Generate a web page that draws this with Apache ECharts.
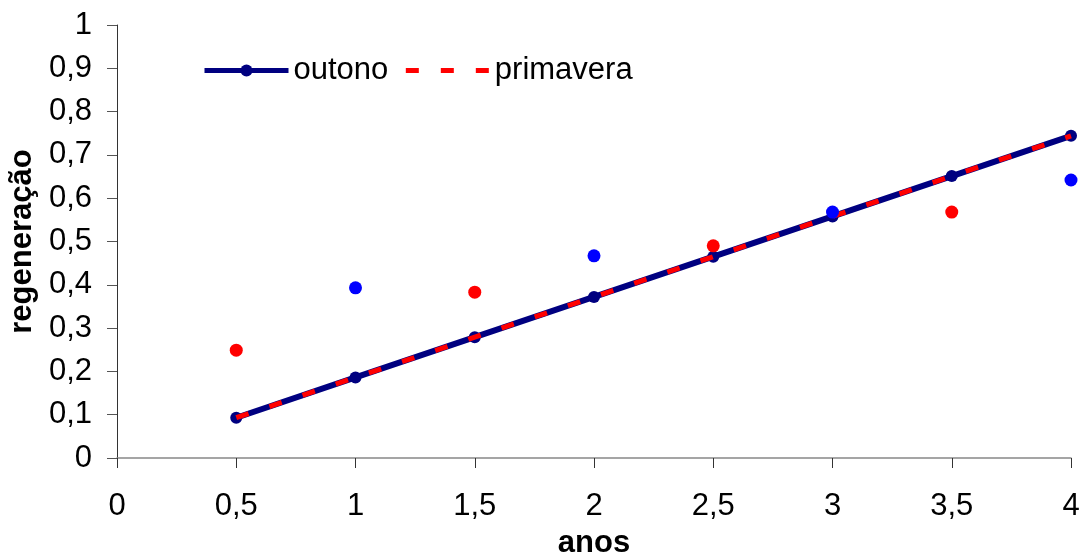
<!DOCTYPE html>
<html>
<head>
<meta charset="utf-8">
<script src="https://cdn.jsdelivr.net/npm/echarts@6/dist/echarts.min.js"></script>
<style>
  html, body { margin: 0; padding: 0; background: #fff; }
  #chart { width: 1085px; height: 553px; }
</style>
</head>
<body>
<div id="chart"></div>
<script>
// Anos (eixo x) e valores ajustados de regeneração
const anos = [0.5, 1, 1.5, 2, 2.5, 3, 3.5, 4];
const outonoAjuste = [0.093, 0.186, 0.279, 0.372, 0.465, 0.558, 0.651, 0.744];
const primaveraAjuste = [0.093, 0.186, 0.279, 0.372, 0.465, 0.558, 0.651, 0.744];

// Valores observados
const outonoAnos = [1, 2, 3, 4];
const outonoObs = [0.393, 0.467, 0.568, 0.642];
const primaveraAnos = [0.5, 1.5, 2.5, 3.5];
const primaveraObs = [0.249, 0.383, 0.490, 0.568];

const pares = (xs, ys) => xs.map((x, i) => [x, ys[i]]);
const virgula = v => (Number.isInteger(v) ? String(v) : v.toFixed(1)).replace('.', ',');
const FONT = 'Liberation Sans, Arial, sans-serif';
const DASH = [13, 22];

const chart = echarts.init(document.getElementById('chart'), null, { renderer: 'canvas' });
chart.setOption({
  animation: false,
  backgroundColor: '#ffffff',
  textStyle: { fontFamily: FONT },
  grid: { left: 117, right: 14, top: 25, bottom: 95, containLabel: false, outerBoundsMode: 'none' },
  legend: {
    data: [
      { name: 'outono', lineStyle: { width: 5, color: '#000080' } },
      {
        name: 'primavera',
        itemStyle: { color: 'rgba(0,0,0,0)', borderWidth: 0 },
        lineStyle: { width: 5, color: '#ff0000', type: DASH }
      }
    ],
    left: 202,
    top: 55,
    padding: 0,
    itemWidth: 84,
    itemHeight: 15,
    itemGap: 15,
    textStyle: { fontSize: 31, color: '#000', fontFamily: FONT }
  },
  xAxis: {
    type: 'value',
    min: 0, max: 4, interval: 0.5,
    name: 'anos',
    nameLocation: 'middle',
    nameGap: 70,
    nameTextStyle: { fontSize: 31, fontWeight: 'bold', color: '#000', fontFamily: FONT },
    axisLine: { lineStyle: { color: '#888', width: 1.5 } },
    axisTick: { show: true, length: 10, inside: false, lineStyle: { color: '#333' } },
    axisLabel: { fontSize: 31, color: '#000', margin: 33, formatter: virgula, fontFamily: FONT },
    splitLine: { show: false }
  },
  yAxis: {
    type: 'value',
    min: 0, max: 1, interval: 0.1,
    name: 'regeneração',
    nameLocation: 'middle',
    nameGap: 76,
    nameTextStyle: { fontSize: 31, fontWeight: 'bold', color: '#000', fontFamily: FONT },
    axisLine: { show: true, lineStyle: { color: '#333', width: 1 } },
    axisTick: { show: true, length: 10, lineStyle: { color: '#555' } },
    axisLabel: { fontSize: 31, color: '#000', margin: 25, formatter: virgula, fontFamily: FONT },
    splitLine: { show: false }
  },
  series: [
    {
      name: 'outono',
      type: 'line',
      data: pares(anos, outonoAjuste),
      symbol: 'circle',
      symbolSize: 12,
      itemStyle: { color: '#000080' },
      lineStyle: { color: '#000080', width: 6 },
      z: 2
    },
    {
      name: 'primavera',
      type: 'line',
      data: pares(anos, primaveraAjuste),
      showSymbol: false,
      symbol: 'circle',
      itemStyle: { color: '#ff0000' },
      lineStyle: { color: '#ff0000', width: 5, type: DASH },
      z: 3
    },
    {
      name: 'outono obs',
      type: 'scatter',
      data: pares(outonoAnos, outonoObs),
      symbol: 'circle',
      symbolSize: 13,
      itemStyle: { color: '#0000ff', opacity: 1 },
      z: 4
    },
    {
      name: 'primavera obs',
      type: 'scatter',
      data: pares(primaveraAnos, primaveraObs),
      symbol: 'circle',
      symbolSize: 13,
      itemStyle: { color: '#ff0000', opacity: 1 },
      z: 4
    }
  ]
});
</script>
</body>
</html>
